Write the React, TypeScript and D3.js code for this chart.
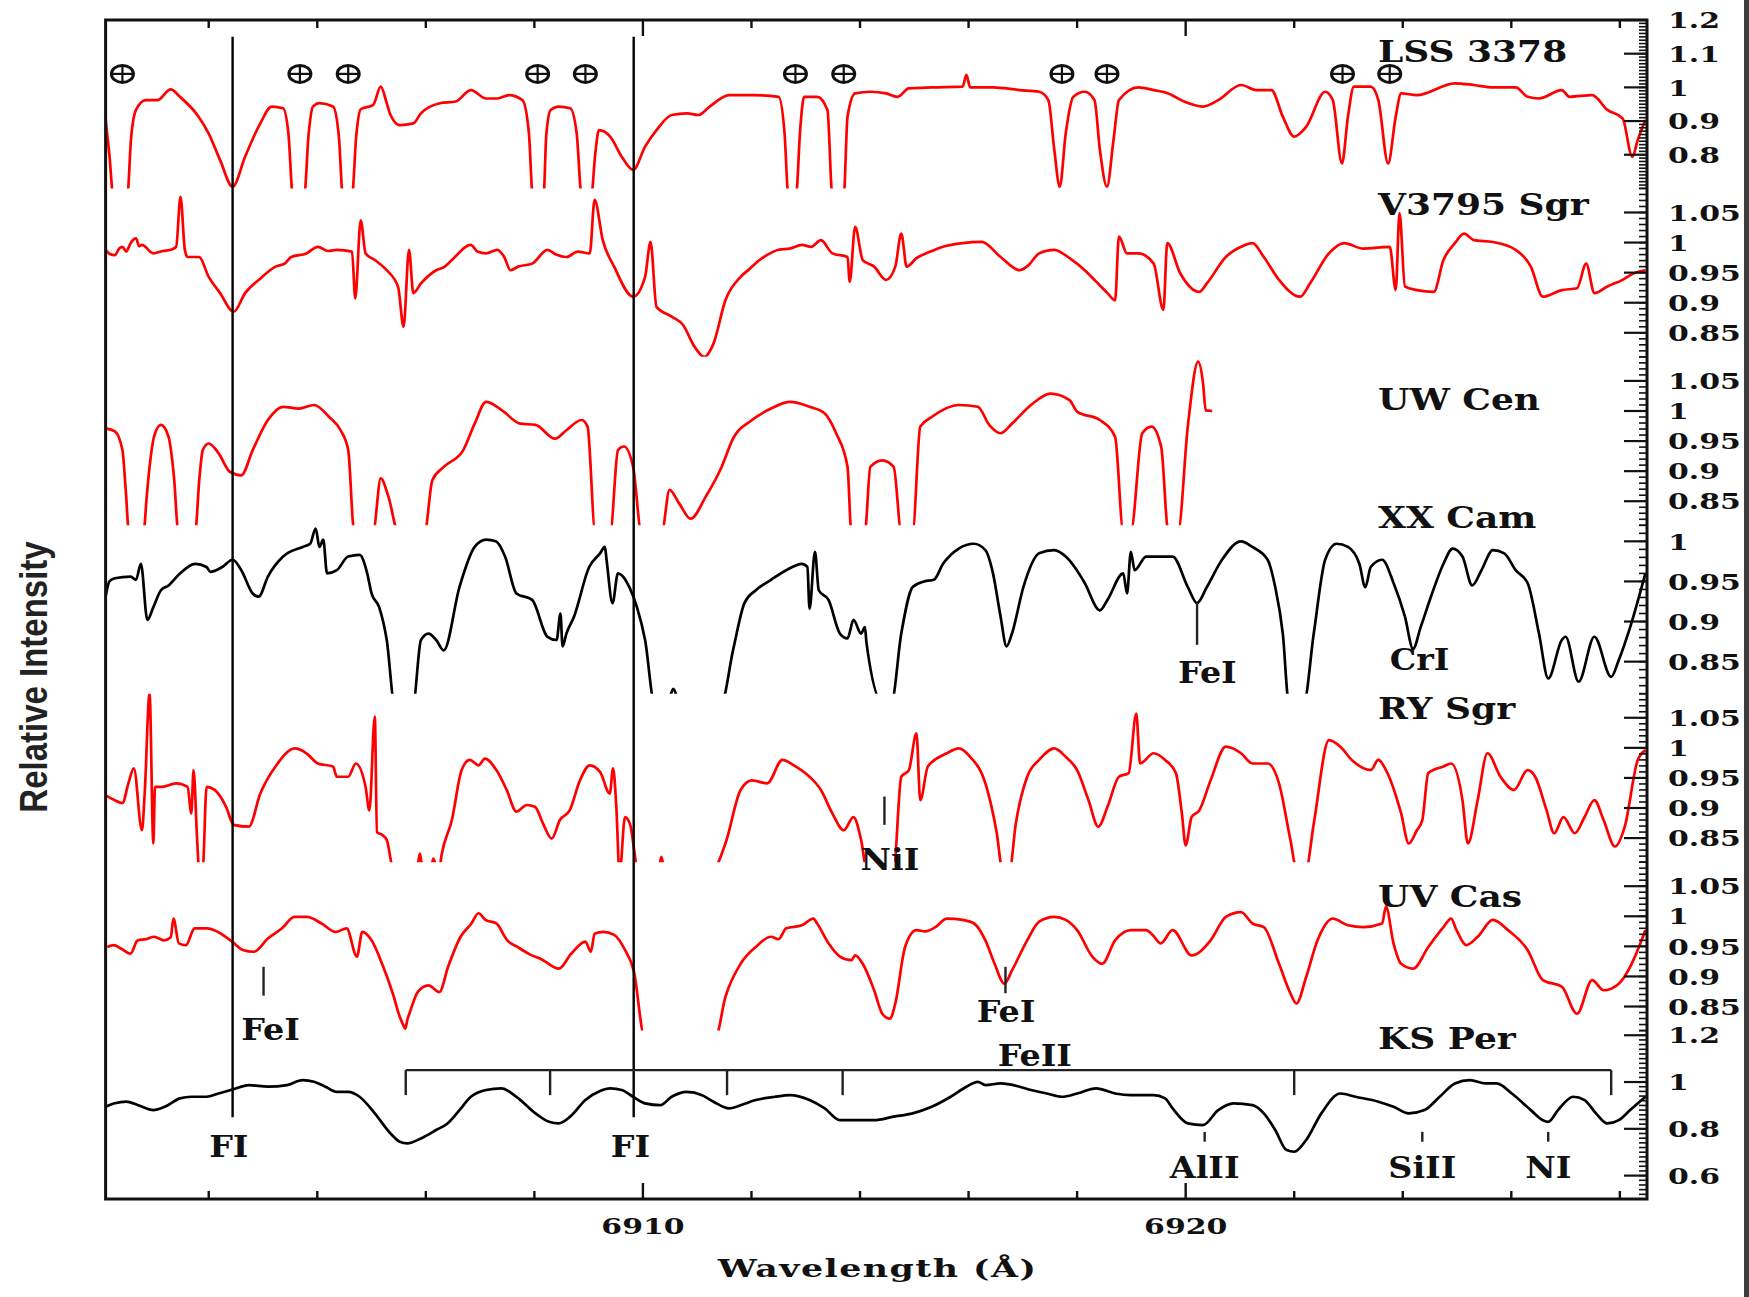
import React from 'react';
import * as d3 from 'd3';

type Pt = [number, number];

// wavelength window (Angstrom)
const waveDomain: [number, number] = [6900.1, 6928.5];
const waveTicks = d3.range(6902, 6929, 2);
const waveLabels = [6910, 6920];

const starNames = ['LSS 3378', 'V3795 Sgr', 'UW Cen', 'XX Cam', 'RY Sgr', 'UV Cas', 'KS Per'];
const panelDomains: [number, number][] = [
  [0.7, 1.2], [0.81, 1.09], [0.81, 1.09], [0.81, 1.02], [0.81, 1.09], [0.81, 1.09], [0.5, 1.22],
];
const panelTicks = [
  [1.2, 1.1, 1, 0.9, 0.8],
  [1.05, 1, 0.95, 0.9, 0.85],
  [1.05, 1, 0.95, 0.9, 0.85],
  [1, 0.95, 0.9, 0.85],
  [1.05, 1, 0.95, 0.9, 0.85],
  [1.05, 1, 0.95, 0.9, 0.85],
  [1.2, 1, 0.8, 0.6],
];

const lss3378: Pt[] = [
  [6900.10, 0.905], [6900.17, 0.80], [6900.24, 0.68], [6900.50, 0.68], [6900.57, 0.85], [6900.66, 0.933], [6900.84, 0.962],
  [6901.05, 0.962], [6901.30, 0.994], [6901.47, 0.972], [6901.79, 0.918], [6902.00, 0.863], [6902.21, 0.784], [6902.44, 0.705],
  [6902.67, 0.794], [6902.95, 0.893], [6903.16, 0.943], [6903.37, 0.938], [6903.47, 0.86], [6903.55, 0.68], [6903.76, 0.68],
  [6903.84, 0.86], [6903.92, 0.943], [6904.04, 0.953], [6904.29, 0.943], [6904.40, 0.85], [6904.47, 0.68], [6904.64, 0.68],
  [6904.72, 0.86], [6904.80, 0.935], [6905.03, 0.948], [6905.17, 1.002], [6905.28, 0.953], [6905.35, 0.918], [6905.52, 0.888],
  [6905.77, 0.893], [6905.91, 0.923], [6906.26, 0.953], [6906.55, 0.958], [6906.83, 0.992], [6907.11, 0.967], [6907.32, 0.967],
  [6907.53, 0.977], [6907.78, 0.962], [6907.90, 0.863], [6907.97, 0.68], [6908.17, 0.68], [6908.22, 0.86], [6908.30, 0.933],
  [6908.45, 0.943], [6908.66, 0.938], [6908.78, 0.863], [6908.87, 0.68], [6909.05, 0.68], [6909.12, 0.80], [6909.19, 0.873],
  [6909.40, 0.853], [6909.61, 0.794], [6909.82, 0.755], [6910.04, 0.824], [6910.25, 0.873], [6910.53, 0.918], [6910.81, 0.923],
  [6911.02, 0.918], [6911.23, 0.943], [6911.59, 0.977], [6912.01, 0.977], [6912.50, 0.972], [6912.61, 0.863], [6912.68, 0.68],
  [6912.82, 0.68], [6912.90, 0.88], [6912.97, 0.972], [6913.21, 0.972], [6913.40, 0.933], [6913.49, 0.68], [6913.70, 0.68],
  [6913.77, 0.913], [6913.91, 0.982], [6914.19, 0.987], [6914.48, 0.982], [6914.69, 0.972], [6914.90, 0.997], [6915.32, 1.000],
  [6915.89, 1.002], [6915.96, 1.037], [6916.03, 1.000], [6916.45, 1.000], [6916.94, 0.992], [6917.30, 0.987], [6917.47, 0.962],
  [6917.58, 0.814], [6917.68, 0.705], [6917.79, 0.863], [6917.93, 0.972], [6918.14, 0.987], [6918.32, 0.962], [6918.42, 0.814],
  [6918.55, 0.705], [6918.67, 0.843], [6918.77, 0.962], [6919.13, 1.000], [6919.41, 0.992], [6919.68, 0.982], [6919.97, 0.958],
  [6920.32, 0.943], [6920.60, 0.962], [6921.02, 1.007], [6921.30, 0.992], [6921.58, 0.992], [6921.79, 0.913], [6922.00, 0.854],
  [6922.22, 0.883], [6922.57, 0.987], [6922.71, 0.962], [6922.88, 0.774], [6922.99, 0.913], [6923.10, 1.002], [6923.41, 1.002],
  [6923.55, 0.962], [6923.73, 0.774], [6923.87, 0.913], [6923.97, 0.982], [6924.26, 0.977], [6924.96, 1.012], [6925.31, 1.007],
  [6925.66, 1.000], [6926.08, 1.000], [6926.30, 0.972], [6926.51, 0.967], [6926.93, 0.992], [6927.07, 0.972], [6927.49, 0.977],
  [6927.77, 0.933], [6928.05, 0.908], [6928.23, 0.794], [6928.33, 0.844], [6928.47, 0.903],
];

const v3795Sgr: Pt[] = [
  [6900.10, 0.988], [6900.18, 0.981], [6900.27, 0.979], [6900.35, 0.990], [6900.41, 0.993], [6900.48, 0.985], [6900.56, 0.999],
  [6900.66, 1.007], [6900.72, 0.994], [6900.77, 0.996], [6900.98, 0.982], [6901.15, 0.986], [6901.30, 0.988], [6901.40, 0.993],
  [6901.48, 1.076], [6901.56, 0.988], [6901.61, 0.976], [6901.82, 0.976], [6902.00, 0.943], [6902.21, 0.916], [6902.46, 0.885],
  [6902.67, 0.916], [6902.95, 0.940], [6903.23, 0.960], [6903.40, 0.965], [6903.52, 0.976], [6903.80, 0.982], [6904.01, 0.993],
  [6904.20, 0.986], [6904.36, 0.988], [6904.64, 0.985], [6904.70, 0.907], [6904.80, 1.037], [6904.89, 0.982], [6905.06, 0.971],
  [6905.28, 0.954], [6905.49, 0.926], [6905.59, 0.860], [6905.69, 0.988], [6905.77, 0.916], [6905.91, 0.932], [6906.19, 0.954],
  [6906.35, 0.960], [6906.48, 0.971], [6906.83, 0.996], [6906.95, 0.985], [6907.11, 0.982], [6907.32, 0.988], [6907.45, 0.975],
  [6907.56, 0.954], [6907.70, 0.960], [6907.96, 0.965], [6908.24, 0.988], [6908.40, 0.980], [6908.59, 0.976], [6908.80, 0.985],
  [6909.02, 0.982], [6909.11, 1.071], [6909.26, 1.004], [6909.47, 0.960], [6909.82, 0.910], [6910.04, 0.943], [6910.14, 1.001],
  [6910.25, 0.893], [6910.53, 0.877], [6910.74, 0.863], [6910.95, 0.827], [6911.13, 0.810], [6911.30, 0.832], [6911.52, 0.904],
  [6911.80, 0.943], [6911.95, 0.955], [6912.15, 0.971], [6912.30, 0.980], [6912.50, 0.988], [6912.70, 0.990], [6912.93, 0.996],
  [6913.10, 0.993], [6913.28, 1.004], [6913.49, 0.982], [6913.77, 0.976], [6913.81, 0.935], [6913.91, 1.026], [6914.05, 0.971],
  [6914.26, 0.960], [6914.48, 0.938], [6914.65, 0.960], [6914.76, 1.015], [6914.86, 0.960], [6915.04, 0.974], [6915.30, 0.985],
  [6915.53, 0.993], [6915.89, 0.999], [6916.24, 1.001], [6916.59, 0.976], [6916.94, 0.954], [6917.10, 0.962], [6917.30, 0.982],
  [6917.58, 0.988], [6917.86, 0.974], [6918.14, 0.954], [6918.35, 0.935], [6918.56, 0.916], [6918.70, 0.904], [6918.77, 1.010],
  [6918.92, 0.982], [6919.13, 0.982], [6919.41, 0.965], [6919.59, 0.888], [6919.66, 0.999], [6919.90, 0.949], [6920.25, 0.918],
  [6920.39, 0.932], [6920.74, 0.976], [6921.02, 0.993], [6921.23, 0.999], [6921.44, 0.976], [6921.72, 0.938], [6922.11, 0.910],
  [6922.29, 0.932], [6922.64, 0.982], [6922.92, 0.999], [6923.27, 0.990], [6923.76, 0.993], [6923.87, 0.921], [6923.94, 1.049],
  [6924.04, 0.927], [6924.26, 0.921], [6924.57, 0.918], [6924.75, 0.971], [6924.96, 0.999], [6925.13, 1.015], [6925.31, 1.004],
  [6925.66, 1.001], [6926.08, 0.988], [6926.36, 0.960], [6926.58, 0.910], [6926.93, 0.921], [6927.21, 0.924], [6927.38, 0.965],
  [6927.53, 0.916], [6927.77, 0.927], [6928.05, 0.938], [6928.26, 0.949], [6928.47, 0.954],
];

const uwCen: Pt[] = [
  [6900.10, 0.971], [6900.27, 0.966], [6900.41, 0.935], [6900.47, 0.87], [6900.53, 0.80], [6900.80, 0.80], [6900.86, 0.86],
  [6900.91, 0.907], [6901.00, 0.96], [6901.12, 0.977], [6901.26, 0.957], [6901.36, 0.89], [6901.44, 0.80], [6901.75, 0.80],
  [6901.83, 0.89], [6901.89, 0.935], [6902.00, 0.946], [6902.18, 0.930], [6902.39, 0.899], [6902.60, 0.893], [6902.81, 0.935],
  [6903.09, 0.985], [6903.37, 1.007], [6903.66, 1.004], [6903.94, 1.010], [6904.22, 0.990], [6904.43, 0.968], [6904.57, 0.935],
  [6904.68, 0.80], [6905.03, 0.80], [6905.17, 0.888], [6905.31, 0.858], [6905.49, 0.80], [6905.98, 0.80], [6906.12, 0.885],
  [6906.33, 0.907], [6906.69, 0.935], [6906.90, 0.979], [6907.11, 1.015], [6907.39, 1.002], [6907.74, 0.979], [6908.02, 0.977],
  [6908.38, 0.954], [6908.59, 0.968], [6908.87, 0.985], [6908.98, 0.974], [6909.12, 0.80], [6909.40, 0.80], [6909.54, 0.935],
  [6909.65, 0.941], [6909.82, 0.907], [6909.97, 0.80], [6910.35, 0.80], [6910.49, 0.869], [6910.67, 0.846], [6910.88, 0.821],
  [6911.16, 0.858], [6911.45, 0.907], [6911.66, 0.954], [6912.01, 0.985], [6912.36, 1.004], [6912.71, 1.015], [6913.07, 1.007],
  [6913.35, 0.996], [6913.56, 0.963], [6913.77, 0.907], [6913.84, 0.80], [6914.09, 0.80], [6914.19, 0.907], [6914.41, 0.918],
  [6914.62, 0.907], [6914.76, 0.80], [6914.97, 0.80], [6915.11, 0.974], [6915.32, 0.990], [6915.82, 1.010], [6916.17, 1.007],
  [6916.38, 0.977], [6916.59, 0.963], [6916.80, 0.979], [6917.15, 1.010], [6917.51, 1.029], [6917.86, 1.018], [6918.00, 0.999],
  [6918.42, 0.985], [6918.70, 0.957], [6918.85, 0.80], [6918.99, 0.80], [6919.20, 0.963], [6919.37, 0.974], [6919.55, 0.940],
  [6919.68, 0.80], [6919.86, 0.80], [6920.04, 0.975], [6920.23, 1.082], [6920.32, 1.046], [6920.37, 1.001], [6920.49, 1.000],
];

const xxCam: Pt[] = [
  [6900.10, 0.931], [6900.17, 0.950], [6900.27, 0.954], [6900.56, 0.956], [6900.66, 0.952], [6900.75, 0.972], [6900.87, 0.902],
  [6900.98, 0.918], [6901.12, 0.939], [6901.26, 0.945], [6901.47, 0.960], [6901.75, 0.972], [6901.96, 0.968], [6902.03, 0.962],
  [6902.25, 0.968], [6902.44, 0.977], [6902.60, 0.964], [6902.81, 0.935], [6902.92, 0.931], [6903.09, 0.956], [6903.37, 0.981],
  [6903.73, 0.993], [6903.87, 0.997], [6903.97, 1.016], [6904.04, 0.993], [6904.11, 1.002], [6904.18, 0.960], [6904.36, 0.964],
  [6904.57, 0.981], [6904.78, 0.983], [6904.92, 0.960], [6905.00, 0.935], [6905.14, 0.918], [6905.28, 0.877], [6905.42, 0.80],
  [6905.77, 0.80], [6905.91, 0.877], [6906.05, 0.885], [6906.19, 0.877], [6906.33, 0.864], [6906.62, 0.943], [6906.90, 0.993],
  [6907.11, 1.002], [6907.29, 1.000], [6907.46, 0.981], [6907.67, 0.935], [6907.96, 0.927], [6908.24, 0.881], [6908.41, 0.877],
  [6908.48, 0.910], [6908.52, 0.869], [6908.59, 0.885], [6908.73, 0.906], [6909.01, 0.968], [6909.21, 0.985], [6909.30, 0.993],
  [6909.33, 0.977], [6909.44, 0.923], [6909.54, 0.960], [6909.75, 0.943], [6909.89, 0.918], [6910.04, 0.877], [6910.21, 0.80],
  [6910.46, 0.80], [6910.56, 0.816], [6910.67, 0.80], [6911.45, 0.80], [6911.66, 0.864], [6911.87, 0.923], [6912.08, 0.939],
  [6912.36, 0.952], [6912.64, 0.964], [6912.93, 0.972], [6913.03, 0.968], [6913.07, 0.916], [6913.17, 0.987], [6913.24, 0.939],
  [6913.42, 0.927], [6913.63, 0.885], [6913.77, 0.879], [6913.88, 0.902], [6914.02, 0.885], [6914.09, 0.893], [6914.12, 0.873],
  [6914.41, 0.80], [6914.58, 0.80], [6914.76, 0.885], [6914.97, 0.943], [6915.18, 0.950], [6915.36, 0.952], [6915.53, 0.972],
  [6915.82, 0.991], [6916.10, 0.997], [6916.31, 0.989], [6916.45, 0.960], [6916.59, 0.906], [6916.70, 0.869], [6916.80, 0.885],
  [6917.01, 0.943], [6917.30, 0.985], [6917.58, 0.989], [6917.79, 0.981], [6918.07, 0.956], [6918.14, 0.948], [6918.42, 0.914],
  [6918.56, 0.927], [6918.85, 0.960], [6918.92, 0.935], [6918.99, 0.987], [6919.06, 0.964], [6919.27, 0.981], [6919.55, 0.981],
  [6919.76, 0.981], [6920.04, 0.943], [6920.21, 0.923], [6920.39, 0.943], [6920.67, 0.977], [6921.02, 1.000], [6921.23, 0.993],
  [6921.51, 0.977], [6921.65, 0.943], [6921.79, 0.885], [6921.90, 0.80], [6922.18, 0.80], [6922.36, 0.885], [6922.57, 0.977],
  [6922.78, 0.997], [6922.99, 0.993], [6923.20, 0.972], [6923.31, 0.943], [6923.41, 0.968], [6923.62, 0.977], [6923.83, 0.948],
  [6924.04, 0.906], [6924.19, 0.866], [6924.33, 0.893], [6924.54, 0.935], [6924.75, 0.972], [6924.92, 0.991], [6925.10, 0.981],
  [6925.28, 0.945], [6925.45, 0.964], [6925.66, 0.989], [6925.87, 0.985], [6926.08, 0.964], [6926.30, 0.948], [6926.51, 0.885],
  [6926.68, 0.829], [6926.93, 0.877], [6927.00, 0.881], [6927.24, 0.825], [6927.53, 0.881], [6927.84, 0.831], [6927.98, 0.852],
  [6928.19, 0.893], [6928.47, 0.960],
];

const rySgr: Pt[] = [
  [6900.10, 0.921], [6900.27, 0.913], [6900.41, 0.908], [6900.52, 0.941], [6900.62, 0.966], [6900.77, 0.863], [6900.82, 0.924],
  [6900.91, 1.090], [6900.98, 0.841], [6901.01, 0.935], [6901.12, 0.935], [6901.40, 0.941], [6901.61, 0.935], [6901.68, 0.891],
  [6901.72, 0.963], [6901.79, 0.841], [6901.82, 0.80], [6901.89, 0.80], [6901.96, 0.935], [6902.11, 0.930], [6902.32, 0.902],
  [6902.46, 0.872], [6902.74, 0.869], [6902.95, 0.924], [6903.23, 0.969], [6903.59, 0.999], [6903.80, 0.991], [6904.01, 0.974],
  [6904.29, 0.969], [6904.36, 0.952], [6904.57, 0.952], [6904.71, 0.974], [6904.89, 0.935], [6904.96, 0.896], [6905.06, 1.052],
  [6905.10, 0.860], [6905.20, 0.855], [6905.28, 0.847], [6905.40, 0.80], [6905.84, 0.80], [6905.89, 0.824], [6905.94, 0.80],
  [6906.09, 0.80], [6906.14, 0.816], [6906.20, 0.80], [6906.25, 0.80], [6906.29, 0.822], [6906.48, 0.880], [6906.66, 0.963],
  [6906.81, 0.980], [6906.97, 0.971], [6907.09, 0.982], [6907.30, 0.963], [6907.49, 0.930], [6907.67, 0.894], [6907.86, 0.905],
  [6908.01, 0.902], [6908.16, 0.874], [6908.32, 0.849], [6908.47, 0.880], [6908.65, 0.896], [6908.84, 0.946], [6909.02, 0.971],
  [6909.21, 0.960], [6909.39, 0.924], [6909.45, 0.966], [6909.51, 0.902], [6909.57, 0.79], [6909.67, 0.885], [6909.76, 0.874],
  [6909.91, 0.80], [6910.29, 0.80], [6910.34, 0.819], [6910.39, 0.80], [6911.30, 0.80], [6911.52, 0.841], [6911.80, 0.930],
  [6912.01, 0.946], [6912.29, 0.941], [6912.57, 0.980], [6912.78, 0.971], [6913.07, 0.952], [6913.28, 0.930], [6913.49, 0.891],
  [6913.70, 0.863], [6913.88, 0.885], [6914.02, 0.847], [6914.12, 0.80], [6914.62, 0.80], [6914.76, 0.952], [6914.90, 0.963],
  [6915.04, 1.024], [6915.11, 0.913], [6915.25, 0.969], [6915.60, 0.991], [6915.82, 0.999], [6916.03, 0.985], [6916.31, 0.941],
  [6916.52, 0.858], [6916.62, 0.80], [6916.76, 0.80], [6916.87, 0.874], [6917.08, 0.952], [6917.30, 0.980], [6917.58, 0.999],
  [6917.79, 0.985], [6918.00, 0.963], [6918.21, 0.913], [6918.39, 0.869], [6918.56, 0.902], [6918.77, 0.952], [6918.95, 0.958],
  [6919.09, 1.057], [6919.16, 0.974], [6919.41, 0.991], [6919.62, 0.980], [6919.82, 0.958], [6919.93, 0.891], [6920.00, 0.838],
  [6920.11, 0.885], [6920.25, 0.896], [6920.46, 0.946], [6920.74, 1.002], [6921.02, 0.991], [6921.23, 0.974], [6921.51, 0.974],
  [6921.72, 0.941], [6921.93, 0.847], [6922.04, 0.80], [6922.22, 0.80], [6922.36, 0.874], [6922.64, 1.013], [6922.85, 1.002],
  [6923.06, 0.980], [6923.41, 0.963], [6923.55, 0.980], [6923.69, 0.963], [6923.97, 0.891], [6924.11, 0.841], [6924.26, 0.863],
  [6924.36, 0.880], [6924.47, 0.958], [6924.75, 0.969], [6924.89, 0.974], [6925.10, 0.913], [6925.20, 0.841], [6925.38, 0.913],
  [6925.56, 0.991], [6925.80, 0.952], [6926.05, 0.930], [6926.30, 0.963], [6926.44, 0.952], [6926.65, 0.896], [6926.79, 0.858],
  [6926.96, 0.885], [6927.17, 0.858], [6927.35, 0.885], [6927.53, 0.913], [6927.70, 0.880], [6927.91, 0.836], [6928.09, 0.869],
  [6928.33, 0.980], [6928.47, 0.996],
];

const uvCas: Pt[] = [
  [6900.13, 0.949], [6900.25, 0.952], [6900.39, 0.946], [6900.56, 0.938], [6900.69, 0.960], [6900.85, 0.962], [6900.99, 0.966],
  [6901.18, 0.960], [6901.30, 0.965], [6901.35, 0.996], [6901.45, 0.955], [6901.58, 0.952], [6901.74, 0.980], [6901.97, 0.980],
  [6902.17, 0.974], [6902.43, 0.958], [6902.63, 0.944], [6902.83, 0.941], [6903.09, 0.963], [6903.35, 0.980], [6903.58, 0.999],
  [6903.81, 0.999], [6904.08, 0.988], [6904.34, 0.974], [6904.54, 0.980], [6904.73, 0.933], [6904.83, 0.974], [6905.00, 0.960],
  [6905.19, 0.922], [6905.39, 0.872], [6905.52, 0.833], [6905.58, 0.820], [6905.62, 0.813], [6905.66, 0.828], [6905.72, 0.844],
  [6905.85, 0.874], [6906.05, 0.885], [6906.25, 0.874], [6906.41, 0.916], [6906.64, 0.966], [6906.84, 0.988], [6906.97, 1.005],
  [6907.10, 0.994], [6907.30, 0.988], [6907.50, 0.960], [6907.69, 0.949], [6907.89, 0.938], [6908.16, 0.927], [6908.45, 0.913],
  [6908.68, 0.938], [6908.94, 0.958], [6909.04, 0.941], [6909.11, 0.971], [6909.27, 0.974], [6909.47, 0.969], [6909.67, 0.944],
  [6909.83, 0.910], [6910.03, 0.80], [6911.34, 0.80], [6911.52, 0.866], [6911.80, 0.921], [6912.08, 0.949], [6912.36, 0.966],
  [6912.50, 0.962], [6912.64, 0.980], [6912.93, 0.985], [6913.14, 0.996], [6913.21, 0.988], [6913.42, 0.955], [6913.63, 0.933],
  [6913.84, 0.927], [6913.91, 0.935], [6914.05, 0.921], [6914.26, 0.877], [6914.41, 0.838], [6914.55, 0.830], [6914.65, 0.855],
  [6914.83, 0.949], [6915.04, 0.977], [6915.20, 0.975], [6915.39, 0.982], [6915.60, 0.996], [6915.89, 0.994], [6916.10, 0.988],
  [6916.31, 0.960], [6916.48, 0.921], [6916.66, 0.888], [6916.80, 0.910], [6917.08, 0.960], [6917.30, 0.991], [6917.58, 0.999],
  [6917.79, 0.994], [6918.00, 0.977], [6918.28, 0.933], [6918.46, 0.921], [6918.70, 0.960], [6918.99, 0.977], [6919.27, 0.977],
  [6919.40, 0.968], [6919.54, 0.955], [6919.76, 0.977], [6920.11, 0.935], [6920.46, 0.960], [6920.74, 0.999], [6921.02, 1.007],
  [6921.23, 0.988], [6921.44, 0.982], [6921.72, 0.921], [6921.93, 0.872], [6922.04, 0.855], [6922.22, 0.899], [6922.43, 0.960],
  [6922.71, 0.996], [6922.99, 0.985], [6923.27, 0.982], [6923.62, 0.988], [6923.69, 1.016], [6923.83, 0.955], [6923.97, 0.921],
  [6924.19, 0.913], [6924.47, 0.949], [6924.75, 0.982], [6924.89, 0.996], [6924.99, 0.977], [6925.17, 0.952], [6925.38, 0.966],
  [6925.66, 0.994], [6925.94, 0.977], [6926.30, 0.944], [6926.58, 0.894], [6926.93, 0.883], [6927.21, 0.838], [6927.49, 0.894],
  [6927.70, 0.877], [6927.98, 0.888], [6928.19, 0.916], [6928.40, 0.960], [6928.47, 0.977],
];

const ksPer: Pt[] = [
  [6900.10, 0.894], [6900.27, 0.909], [6900.48, 0.916], [6900.70, 0.901], [6900.98, 0.880], [6901.19, 0.894], [6901.47, 0.930],
  [6901.68, 0.937], [6901.96, 0.937], [6902.18, 0.951], [6902.44, 0.968], [6902.74, 0.987], [6903.09, 0.980], [6903.44, 0.987],
  [6903.73, 1.008], [6903.94, 1.001], [6904.15, 0.980], [6904.36, 0.958], [6904.57, 0.958], [6904.78, 0.937], [6905.06, 0.866],
  [6905.35, 0.780], [6905.52, 0.745], [6905.66, 0.738], [6905.91, 0.759], [6906.19, 0.795], [6906.40, 0.823], [6906.62, 0.880],
  [6906.83, 0.937], [6907.11, 0.966], [6907.39, 0.973], [6907.67, 0.937], [6908.02, 0.866], [6908.27, 0.830], [6908.45, 0.823],
  [6908.66, 0.852], [6908.94, 0.923], [6909.21, 0.962], [6909.40, 0.973], [6909.61, 0.966], [6909.82, 0.937], [6910.04, 0.909],
  [6910.32, 0.901], [6910.53, 0.937], [6910.81, 0.958], [6911.09, 0.944], [6911.30, 0.916], [6911.59, 0.887], [6911.80, 0.901],
  [6912.08, 0.923], [6912.43, 0.937], [6912.71, 0.944], [6913.07, 0.923], [6913.35, 0.887], [6913.63, 0.837], [6913.91, 0.837],
  [6914.26, 0.837], [6914.62, 0.852], [6914.97, 0.866], [6915.32, 0.894], [6915.67, 0.937], [6915.96, 0.980], [6916.17, 1.001],
  [6916.31, 0.987], [6916.59, 0.994], [6916.94, 0.980], [6917.15, 0.966], [6917.44, 0.951], [6917.72, 0.937], [6918.00, 0.951],
  [6918.35, 0.973], [6918.70, 0.951], [6918.99, 0.944], [6919.41, 0.944], [6919.62, 0.930], [6919.76, 0.887], [6920.04, 0.823],
  [6920.32, 0.816], [6920.60, 0.880], [6920.88, 0.909], [6921.23, 0.901], [6921.44, 0.866], [6921.65, 0.795], [6921.86, 0.709],
  [6922.00, 0.702], [6922.22, 0.752], [6922.50, 0.866], [6922.85, 0.951], [6923.13, 0.937], [6923.55, 0.916], [6923.83, 0.894],
  [6924.11, 0.866], [6924.40, 0.880], [6924.68, 0.937], [6924.96, 0.994], [6925.24, 1.008], [6925.52, 0.994], [6925.73, 0.994],
  [6926.01, 0.951], [6926.36, 0.880], [6926.58, 0.837], [6926.68, 0.830], [6926.86, 0.880], [6927.14, 0.937], [6927.35, 0.923],
  [6927.56, 0.866], [6927.77, 0.823], [6927.98, 0.837], [6928.19, 0.880], [6928.47, 0.937],
];

const spectra = [lss3378, v3795Sgr, uwCen, xxCam, rySgr, uvCas, ksPer];

// telluric lines marked with the Earth symbol over LSS 3378
const telluricWaves = [6900.41, 6903.68, 6904.57, 6908.06, 6908.94, 6912.81, 6913.70, 6917.72, 6918.55, 6922.89, 6923.76];
const telluricLevel = 1.04;

// F I lines (full-height vertical lines)
const fluorineWaves = [6902.44, 6909.83];
const fluorineTop = 1.15; // in LSS 3378 units
const fluorineBottom = 0.85; // in KS Per units

// Fe II bracket over KS Per
const feIIWaves = [6905.63, 6908.29, 6911.55, 6913.68, 6922.0, 6927.84];
const feIILevel = 1.051;
const feIITickEnd = 0.944;

// short identification ticks: panel, wavelength, top, bottom
const markPanels = [3, 4, 5, 5, 6, 6, 6];
const markWaves = [6920.21, 6914.45, 6903.01, 6916.68, 6920.35, 6924.36, 6926.68];
const markTops = [0.923, 0.919, 0.916, 0.916, 0.787, 0.787, 0.787];
const markBottoms = [0.871, 0.872, 0.868, 0.872, 0.745, 0.745, 0.745];

// line identifications: text, panel, wavelength, level
const idTexts = ['FeI', 'CrI', 'NiI', 'FeI', 'FeI', 'FeII', 'FI', 'FI', 'AlII', 'SiII', 'NI'];
const idPanels = [3, 3, 4, 5, 5, 6, 6, 6, 6, 6, 6];
const idWaves = [6920.40, 6924.31, 6914.55, 6903.14, 6916.69, 6917.22, 6902.37, 6909.77, 6920.35, 6924.36, 6926.68];
const idLevels = [0.823, 0.839, 0.797, 0.794, 0.825, 1.068, 0.679, 0.679, 0.590, 0.590, 0.590];

const RED = '#ff0000';
const lineColors = [RED, RED, RED, '#000', RED, RED, '#000'];
const nameOffsets = [42, 27, 53, 3, 25, 45, 18];

export default function App() {
  const W = 1749;
  const H = 1297;
  const left = 105.6;
  const right = 1647;
  const top = 20;
  const bottom = 1199;
  const bandH = (bottom - top) / spectra.length;
  const serif = '"DejaVu Serif", serif';

  const x = d3.scaleLinear().domain(waveDomain).range([left, right]);
  const ys = panelDomains.map((dom, i) =>
    d3.scaleLinear().domain(dom).range([top + bandH * (i + 1), top + bandH * i])
  );

  const minorTicks = panelDomains.map((dom, i) => {
    const per = i === 6 ? 50 : 100;
    return d3.range(Math.ceil(dom[0] * per), Math.floor(dom[1] * per) + 1).map((v) => v / per);
  });

  const stretched = (
    key: string,
    tx: number,
    ty: number,
    sx: number,
    text: string,
    size: number,
    anchor: string,
    extra: Record<string, any> = {}
  ) => (
    <text
      key={key}
      transform={`translate(${tx},${ty}) scale(${sx},1)`}
      fontFamily={serif}
      fontWeight="bold"
      fontSize={size}
      textAnchor={anchor}
      fill="#111"
      {...extra}
    >
      {text}
    </text>
  );

  return (
    <svg
      width={W}
      height={H}
      viewBox={`0 0 ${W} ${H}`}
      style={{ position: 'absolute', left: 0, top: 0, background: '#fff', display: 'block' }}
    >
      <defs>
        {spectra.map((_, i) => (
          <clipPath id={`band-${i}`} key={i}>
            <rect x={left} y={top + bandH * i} width={right - left} height={bandH} />
          </clipPath>
        ))}
      </defs>

      {/* spectra */}
      {spectra.map((data, i) => {
        const line = d3
          .line<Pt>()
          .x((d) => x(d[0]))
          .y((d) => ys[i](d[1]))
          .curve(d3.curveMonotoneX);
        return (
          <path
            key={`sp-${i}`}
            d={line(data) || ''}
            fill="none"
            stroke={lineColors[i]}
            strokeWidth={2.7}
            strokeLinejoin="round"
            clipPath={`url(#band-${i})`}
          />
        );
      })}

      {/* F I lines */}
      {fluorineWaves.map((w, i) => (
        <line
          key={`fi-${i}`}
          x1={x(w)}
          x2={x(w)}
          y1={ys[0](fluorineTop)}
          y2={ys[6](fluorineBottom)}
          stroke="#000"
          strokeWidth={2.4}
        />
      ))}

      {/* Earth symbols */}
      {telluricWaves.map((w, i) => {
        const cx = x(w);
        const cy = ys[0](telluricLevel);
        return (
          <g key={`t-${i}`} stroke="#111" strokeWidth={3} fill="none">
            <ellipse cx={cx} cy={cy} rx={11} ry={8.5} />
            <line x1={cx - 11} x2={cx + 11} y1={cy} y2={cy} strokeWidth={2.2} />
            <line x1={cx} x2={cx} y1={cy - 8.5} y2={cy + 8.5} strokeWidth={2.2} />
          </g>
        );
      })}

      {/* Fe II bracket */}
      <g stroke="#222" strokeWidth={2.4} fill="none">
        <line
          x1={x(feIIWaves[0])}
          x2={x(feIIWaves[feIIWaves.length - 1])}
          y1={ys[6](feIILevel)}
          y2={ys[6](feIILevel)}
        />
        {feIIWaves.map((w, i) => (
          <line key={`fe2-${i}`} x1={x(w)} x2={x(w)} y1={ys[6](feIILevel)} y2={ys[6](feIITickEnd)} />
        ))}
      </g>

      {/* identification ticks */}
      {markWaves.map((w, i) => (
        <line
          key={`mk-${i}`}
          x1={x(w)}
          x2={x(w)}
          y1={ys[markPanels[i]](markTops[i])}
          y2={ys[markPanels[i]](markBottoms[i])}
          stroke="#222"
          strokeWidth={2.4}
        />
      ))}

      {/* identification labels */}
      {idTexts.map((t, i) =>
        stretched(`id-${i}`, x(idWaves[i]), ys[idPanels[i]](idLevels[i]), 1.15, t, 29, 'middle')
      )}

      {/* star names */}
      {starNames.map((n, i) =>
        stretched(`nm-${i}`, 1378, top + bandH * i + nameOffsets[i], 1.2, n, 30, 'start')
      )}

      {/* frame */}
      <rect x={left} y={top} width={right - left} height={bottom - top} fill="none" stroke="#111" strokeWidth={3} />

      {/* wavelength ticks top and bottom */}
      {waveTicks.map((t) => {
        const len = waveLabels.includes(t) ? 16 : 8;
        return (
          <g key={`wt-${t}`} stroke="#111" strokeWidth={2.4}>
            <line x1={x(t)} x2={x(t)} y1={bottom} y2={bottom - len} />
            <line x1={x(t)} x2={x(t)} y1={top} y2={top + len} />
          </g>
        );
      })}
      {waveLabels.map((t) => stretched(`wl-${t}`, x(t), 1234, 1.3, String(t), 23, 'middle'))}

      {/* right-hand intensity axes */}
      {minorTicks.map((ticks, i) =>
        ticks.map((v) => (
          <line
            key={`mt-${i}-${v}`}
            x1={right}
            x2={right - 8}
            y1={ys[i](v)}
            y2={ys[i](v)}
            stroke="#111"
            strokeWidth={1.6}
          />
        ))
      )}
      {panelTicks.map((ticks, i) =>
        ticks.map((v) => (
          <g key={`Mt-${i}-${v}`}>
            <line x1={right} x2={right - 23} y1={ys[i](v)} y2={ys[i](v)} stroke="#111" strokeWidth={2.2} />
            {stretched(`Ml-${i}-${v}`, 1668, ys[i](v), 1.3, String(v), 23, 'start', {
              dominantBaseline: 'central',
            })}
          </g>
        ))
      )}

      {/* axis titles */}
      {stretched('xt', 877.6, 1277, 1.45, 'Wavelength (Å)', 24, 'middle', { letterSpacing: 1 })}
      <text
        transform={`translate(34,677) rotate(-90) scale(1,1.15)`}
        fontFamily='"Liberation Sans", Arial, sans-serif'
        fontWeight="bold"
        fontSize={33}
        textAnchor="middle"
        dominantBaseline="central"
        fill="#222"
      >
        Relative Intensity
      </text>

      <rect x={1744} y={0} width={5} height={H} fill="#3c3c3c" />
    </svg>
  );
}
